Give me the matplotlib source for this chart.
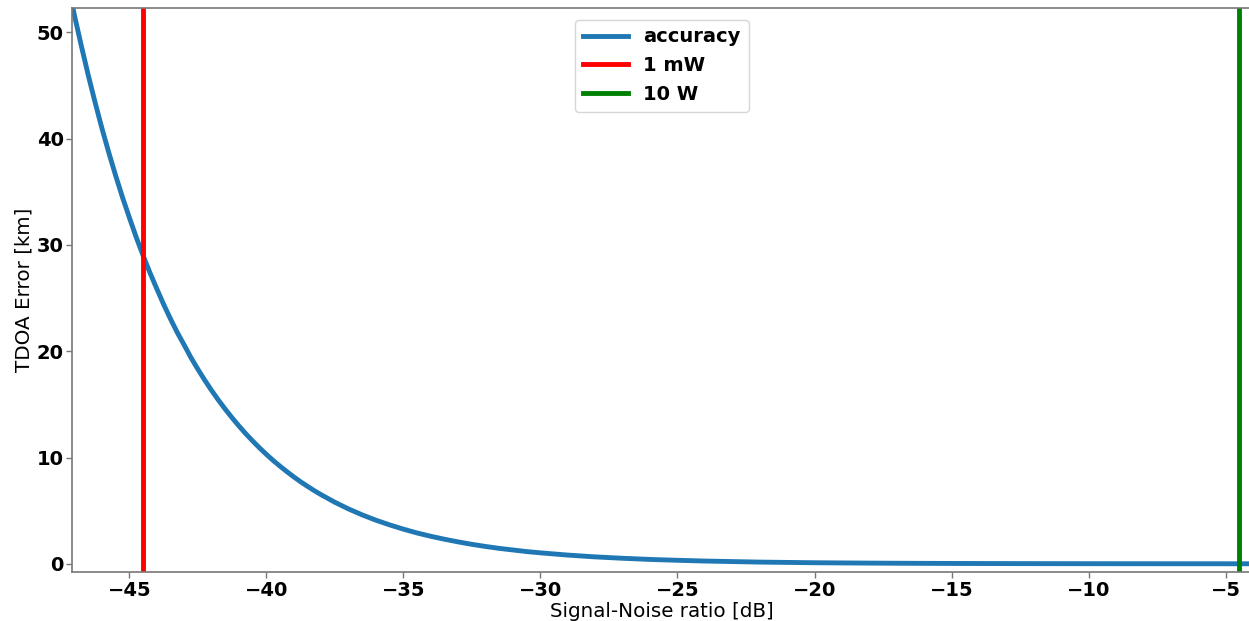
import matplotlib
matplotlib.use("Agg")
import matplotlib.pyplot as plt

# Signal-noise ratio [dB] and TDOA error [km]
snr_db = [-48, -47.75, -47.5, -47.25, -47, -46.75, -46.5, -46.25, -46,
          -45.75, -45.5, -45.25, -45, -44.75, -44.5, -44.25, -44, -43.75,
          -43.5, -43.25, -43, -42.75, -42.5, -42.25, -42, -41.75, -41.5,
          -41.25, -41, -40.75, -40.5, -40.25, -40, -39.75, -39.5, -39.25,
          -39, -38.75, -38.5, -38.25, -38, -37.5, -37, -36.5, -36, -35.5,
          -35, -34.5, -34, -33.5, -33, -32.5, -32, -31.5, -31, -30.5, -30,
          -29, -28, -27, -26, -25, -24, -23, -22, -21, -20, -19, -18, -17,
          -16, -15, -14, -13, -12, -11, -10, -9, -8, -7, -6, -5, -4]
tdoa_err_km = [65.0, 61.36, 57.92, 54.69, 51.6, 48.74, 46.01, 43.44, 41.0,
               38.71, 36.55, 34.50, 32.6, 30.75, 29.03, 27.41, 25.9, 24.43,
               23.06, 21.77, 20.6, 19.40, 18.32, 17.29, 16.32, 15.41, 14.55,
               13.74, 12.97, 12.24, 11.56, 10.91, 10.3, 9.72, 9.18, 8.67,
               8.18, 7.72, 7.29, 6.88, 6.50, 5.79, 5.16, 4.60, 4.10, 3.66,
               3.26, 2.90, 2.59, 2.31, 2.06, 1.83, 1.63, 1.45, 1.30, 1.15,
               1.03, 0.82, 0.65, 0.52, 0.41, 0.33, 0.26, 0.21, 0.16, 0.13,
               0.10, 0.082, 0.065, 0.052, 0.041, 0.033, 0.026, 0.021, 0.016,
               0.013, 0.010, 0.008, 0.0065, 0.0052, 0.0041, 0.0033, 0.0026]
snr_1mw = -44.5
snr_10w = -4.5
series_labels = ["accuracy", "1 mW", "10 W"]
xticks = [-45, -40, -35, -30, -25, -20, -15, -10, -5]
yticks = [0, 10, 20, 30, 40, 50]

fig = plt.figure(figsize=(12.49, 6.21), dpi=100)
ax = fig.add_axes([72 / 1249, 48.7 / 621, 1180 / 1249, 564.3 / 621])

ax.plot(snr_db, tdoa_err_km, color="#1f77b4", lw=3.5, label=series_labels[0])
ax.axvline(snr_1mw, color="red", lw=3.5, label=series_labels[1])
ax.axvline(snr_10w, color="green", lw=3.5, label=series_labels[2])

ax.set_xlim(-47.09, -4.04)
ax.set_ylim(-0.8, 52.3)
ax.set_xticks(xticks)
ax.set_yticks(yticks)
ax.set_xticklabels([("\u2212%d" % -t) if t < 0 else str(t) for t in xticks])
for lab in ax.get_xticklabels() + ax.get_yticklabels():
    lab.set_fontweight("bold")
    lab.set_fontsize(14)
ax.tick_params(axis="both", color="#777777", labelcolor="black",
               length=4, width=1, pad=2)
for s in ax.spines.values():
    s.set_color("#777777")
    s.set_linewidth(1.2)

ax.set_xlabel("Signal-Noise ratio [dB]", fontsize=14.3, labelpad=2)
ax.set_ylabel("TDOA Error [km]", fontsize=14.3, labelpad=2)

leg = ax.legend(loc="upper center", prop={"weight": "bold", "size": 14},
                handlelength=2.3, borderaxespad=0.6, framealpha=0.8)

fig.savefig("out.png", dpi=100)
